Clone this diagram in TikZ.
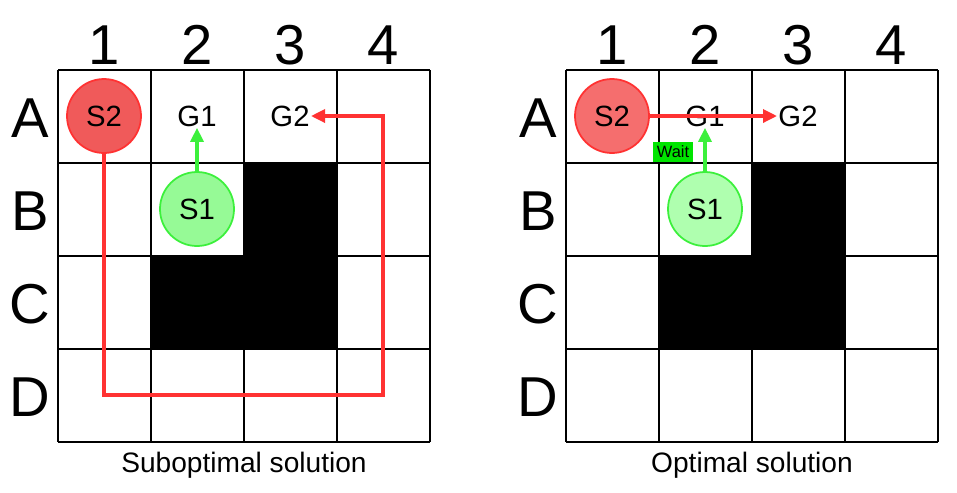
\documentclass[tikz,border=0pt]{standalone}
\usepackage{fontspec}
\setmainfont{Liberation Sans}
\usepackage{tikz}
\usetikzlibrary{positioning}
\usetikzlibrary{arrows.meta}
\usepackage{xcolor}
\definecolor{agentred}{RGB}{240,90,90}
\definecolor{agentredlight}{RGB}{245,110,110}
\definecolor{linered}{RGB}{255,50,50}
\definecolor{agentgreen}{RGB}{150,250,150}
\definecolor{agentgreenlight}{RGB}{175,255,175}
\definecolor{linegreen}{RGB}{60,240,60}

\tikzset{
  agent/.style={circle, minimum size=74*0.03cm, inner sep=0pt, line width=1.5pt, font=\fontsize{25}{28}\selectfont},
  goal/.style={inner sep=1pt, font=\fontsize{25}{28}\selectfont},
  axislabel/.style={font=\fontsize{48}{52}\selectfont},
  caption/.style={font=\fontsize{24}{28}\selectfont},
  move/.style={line width=3pt, -{Triangle[length=12pt, width=11pt]}}
}

\begin{document}
\begin{tikzpicture}[x=0.03cm, y=-0.03cm]
	    		\useasboundingbox (0,0) rectangle (957,492);
	    		\foreach \ox/\tag in {0/l,508/r}{
	    			% obstacles
	    			\fill[black] (\ox+244,163) rectangle (\ox+337,256);
	    			\fill[black] (\ox+151,256) rectangle (\ox+337,349);
	    			\foreach \i in {0,...,4}{
	    				\draw[black, line width=1.3pt] (\ox+58+93*\i,70) -- (\ox+58+93*\i,442);
	    				\draw[black, line width=1.3pt] (\ox+58,70+93*\i) -- (\ox+430,70+93*\i);
	    			}
	    			\foreach \c [count=\i from 0] in {1,2,3,4}
	    				\node[axislabel] (col\tag\c) at (\ox+104.5+93*\i, 45) {\c};
	    			\foreach \r [count=\i from 0] in {A,B,C,D}
	    				\node[axislabel] (row\tag\r) at (\ox+30, 118+93*\i) {\r};
	    		}
	    		% suboptimal
	    		\node[goal] (g1l) at (197,116) {G1};
	    		\node[goal] (g2l) at (290,116) {G2};
	    		\node[agent, draw=linered, fill=agentred] (s2l) at (104,116) {S2};
	    		\node[agent, draw=linegreen, fill=agentgreen] (s1l) at (197,209) {S1};
	    		\draw[move, linegreen] (s1l) -- (g1l);
	    		\draw[move, linered] (s2l) |- (383,395) |- (g2l);
	    		\node[caption] (capl) at (244,465) {Suboptimal solution};
	    		% optimal
	    		\node[goal] (g1r) at (705,116) {G1};
	    		\node[goal] (g2r) at (798,116) {G2};
	    		\node[agent, draw=linered, fill=agentredlight] (s2r) at (612,116) {S2};
	    		\node[agent, draw=linegreen, fill=agentgreenlight] (s1r) at (705,209) {S1};
	    		\draw[move, linered] (s2r) -- (g2r);
	    		\draw[move, linegreen] (s1r) -- (g1r);
	    		\node[fill=green!90!black, inner sep=3pt, font=\fontsize{14}{16}\selectfont] (wait) at (673,152) {Wait};
	    		\node[caption] (capr) at (752,465) {Optimal solution};
\end{tikzpicture}
\end{document}
